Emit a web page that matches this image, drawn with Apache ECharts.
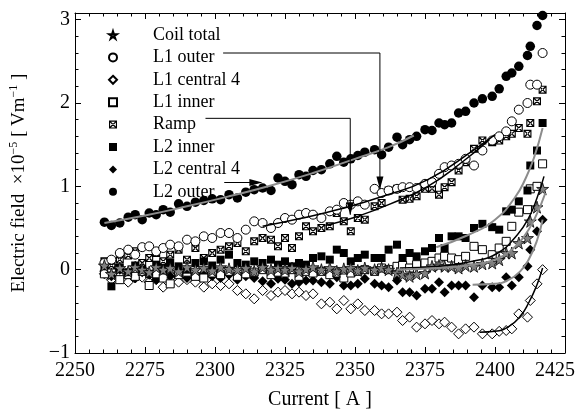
<!DOCTYPE html>
<html><head><meta charset="utf-8">
<script src="https://cdn.jsdelivr.net/npm/echarts@6/dist/echarts.min.js"></script>
<style>html,body{margin:0;padding:0;background:#fff}#c{width:578px;height:415px}</style>
</head><body><div id="c"></div>
<script>
const current = [2260.5,2263,2266,2269,2271.5,2274,2276.5,2279,2281.5,2284,2287,2290,2293,2296,2299,2302,2305,2308,2311,2314,2317,2320,2322.5,2325,2327.5,2330,2332.5,2335,2338,2341,2343.5,2346,2348.5,2351,2353.5,2357,2359.5,2362,2365,2367,2369.5,2372,2375,2377.5,2380,2382,2384.5,2387,2389.5,2392.5,2395.5,2399,2401.5,2404,2406,2408.5,2411.6,2412.6,2415,2417];
const coilTotal = [0.05,-0.05,0.02,-0.02,0.03,0.00,-0.03,0.03,0.00,0.02, -0.02,0.03,0.00,0.02,-0.01,0.03,0.01,0.00,0.02,-0.02, 0.03,0.00,0.02,0.00,0.02,-0.02,0.01,0.03,0.00,0.02, -0.02,0.01,0.02,-0.01,0.02,0.00,0.02,0.00,-0.04,-0.06, -0.08,-0.05,-0.04,0.04,0.05,0.04,0.04,0.02,0.05,0.04, 0.07,0.08,0.12,0.20,0.20,0.32,0.38,0.58,0.75,0.97];
const l1Outer = [0.08,0.12,0.20,0.24,0.18,0.27,0.28,0.22,0.26,0.30, 0.28,0.36,0.34,0.40,0.38,0.44,0.44,0.38,0.48,0.58, 0.56,0.50,0.56,0.62,0.60,0.66,0.68,0.66,0.62,0.70, 0.72,0.80,0.78,0.82,0.78,0.97,0.92,0.95,0.97,0.99, 0.99,0.98,1.03,1.05,1.15,1.23,1.25,1.27,1.33,1.25, 1.43,1.55,1.60,1.66,1.78,1.92,2.00,2.22,2.22,2.60];
const l1Central = [-0.05,-0.12,-0.08,-0.15,-0.10,-0.09,-0.15,-0.12,-0.21,-0.10, -0.15,-0.12,-0.15,-0.21,-0.17,-0.19,-0.17,-0.25,-0.29,-0.35, -0.25,-0.31,-0.27,-0.25,-0.29,-0.27,-0.31,-0.29,-0.41,-0.39, -0.47,-0.37,-0.47,-0.41,-0.49,-0.49,-0.53,-0.53,-0.51,-0.61, -0.57,-0.69,-0.65,-0.61,-0.65,-0.63,-0.69,-0.77,-0.71,-0.69, -0.77,-0.77,-0.74,-0.73,-0.71,-0.53,-0.57,-0.37,-0.17,0.00];
const l1Inner = [-0.05,0.02,-0.12,-0.06,-0.08,-0.02,-0.19,-0.05,-0.10,-0.17, -0.06,-0.03,-0.08,-0.10,-0.04,-0.06,-0.02,-0.08,-0.05,-0.03, 0.00,-0.06,-0.03,-0.04,0.00,-0.08,-0.02,-0.04,-0.02,-0.06, -0.04,-0.10,-0.04,-0.02,0.00,-0.02,0.02,0.00,0.04,0.05, 0.02,0.06,0.08,0.10,0.14,0.16,0.14,0.12,0.16,0.28, 0.24,0.18,0.26,0.34,0.52,0.69,0.72,0.97,1.00,1.27];
const ramp = [0.10,0.05,0.12,0.17,0.22,0.08,0.14,0.20,0.10,0.18, 0.24,0.12,0.26,0.14,0.20,0.24,0.28,0.32,0.22,0.34, 0.38,0.36,0.28,0.38,0.26,0.40,0.52,0.46,0.50,0.52, 0.68,0.58,0.46,0.62,0.60,0.76,0.80,0.95,0.97,0.84, 0.85,0.88,0.97,0.97,0.90,0.99,1.05,1.19,1.29,1.45, 1.55,1.53,1.55,1.60,1.63,1.70,1.63,1.76,2.02,2.16];
const l2Inner = [0.05,-0.20,0.02,-0.03,0.05,0.00,-0.05,0.06,0.02,0.08, 0.04,0.00,0.08,0.10,0.05,0.12,0.18,0.08,0.06,0.10, 0.08,0.12,0.06,0.10,0.04,0.08,0.06,0.14,0.16,0.12, 0.24,0.20,0.10,0.14,0.18,0.14,0.14,0.24,0.30,0.14, 0.20,0.16,0.22,0.26,0.38,0.26,0.40,0.40,0.38,0.50, 0.55,0.51,0.48,0.70,0.72,0.82,0.95,1.25,1.43,1.76];
const l2Central = [-0.02,-0.08,0.00,-0.05,-0.10,-0.03,-0.06,-0.12,-0.04,-0.08, -0.05,-0.10,-0.06,-0.04,-0.08,-0.10,-0.06,-0.12,-0.08,-0.10, -0.14,-0.17,-0.11,-0.12,-0.17,-0.15,-0.13,-0.13,-0.15,-0.17, -0.09,-0.19,-0.19,-0.17,-0.11,-0.17,-0.19,-0.21,-0.13,-0.27, -0.27,-0.31,-0.23,-0.23,-0.15,-0.27,-0.19,-0.19,-0.19,-0.33, -0.19,-0.21,-0.21,-0.09,-0.19,-0.09,0.04,0.24,0.46,0.60];
const l2Outer = [0.57,0.53,0.56,0.63,0.66,0.60,0.68,0.66,0.72,0.69, 0.79,0.76,0.81,0.83,0.85,0.84,0.90,0.86,0.93,0.96, 0.98,0.95,1.10,1.06,1.02,1.14,1.12,1.19,1.20,1.27, 1.36,1.29,1.33,1.37,1.41,1.44,1.38,1.47,1.59,1.50, 1.56,1.60,1.68,1.67,1.76,1.74,1.76,1.88,1.90,2.00, 2.05,2.08,2.17,2.32,2.36,2.44,2.57,2.68,2.93,3.05];

// fitted curves
const fitL2Outer = [[2260.5,0.56],[2275,0.65],[2290,0.76],[2305,0.88],[2320,1.01],[2335,1.16],[2350,1.33],[2362,1.47],[2371,1.61]];
const fitL1Outer = [[2317,0.52],[2330,0.61],[2345,0.73],[2360,0.88],[2376,1.08],[2393,1.45],[2400,1.62]];
const fitRamp = [[2339.5,0.53],[2350,0.63],[2362,0.78],[2376,1.0],[2389,1.31],[2398,1.56]];
const fitL2Inner = [[2379,0.27],[2390,0.41],[2400,0.6],[2407,0.86],[2411,1.1],[2414,1.35],[2417,1.7]];
const fitL1Inner = [[2366,0.02],[2380,0.04],[2392,0.1],[2401,0.2],[2408,0.42],[2412,0.62],[2415,0.86],[2417.5,1.12]];
const fitCoil = [[2365,0.0],[2380,0.02],[2392,0.06],[2400,0.12],[2406,0.24],[2410,0.38],[2414,0.6],[2418,0.92]];
const fitL2Central = [[2392,-0.18],[2400,-0.17],[2405,-0.12],[2409,-0.02],[2412,0.12],[2415,0.35],[2417,0.6]];
const fitL1Central = [[2394.5,-0.75],[2400,-0.74],[2405,-0.68],[2409,-0.56],[2412,-0.4],[2415,-0.18],[2417,0.02]];

// annotation leader lines (data coords)
const leadL1Outer = [[2302.9,2.60],[2358.9,2.60],[2358.9,0.97]];
const leadRamp = [[2296.6,1.816],[2348.3,1.816],[2348.3,0.66]];
const leadL2Outer = [[2303.3,1.046],[2316.5,1.046]];
const headsDown = [[2358.9,1.04],[2348.3,0.731]];
const headsRight = [[2314.6,1.046]];

const xTicks = {min:2250, max:2425, interval:25};
const yTicks = {min:-1, max:3.08, interval:1};

const FONT = 'Liberation Serif';
const STAR = 'path://M50,0 L61,35 L98,35 L68,57 L79,91 L50,70 L21,91 L32,57 L2,35 L39,35 Z';
const XBOX = 'path://M0,0 H10 V10 H0 Z M1.4,1.4 V8.6 H8.6 V1.4 Z M1.4,2.5 L1.4,1.4 L2.5,1.4 L8.6,7.5 L8.6,8.6 L7.5,8.6 Z M8.6,2.5 L8.6,1.4 L7.5,1.4 L1.4,7.5 L1.4,8.6 L2.5,8.6 Z';

const pairs = v => current.map((c,i)=>[c, v[i]]);
const open = {color:'#fff', borderColor:'#000', borderWidth:1, opacity:1};
const filled = {color:'#000', borderColor:'#000', borderWidth:0, opacity:1};

function sc(name, vals, symbol, size, style, z){
  return {name, type:'scatter', data:pairs(vals), symbol, symbolSize:size, itemStyle:style, z:z||2, silent:true};
}
function fit(data, color, w){
  return {type:'line', data, smooth:true, showSymbol:false, symbol:'none', lineStyle:{color, width:w}, z:5, silent:true};
}
function lead(data){
  return {type:'line', data, showSymbol:false, symbol:'none', lineStyle:{color:'#000', width:1}, z:6, silent:true};
}

const series = [
  sc('L1 central 4', l1Central, 'diamond', 10, open),
  sc('L2 central 4', l2Central, 'diamond', 10, filled),
  sc('L1 inner', l1Inner, 'rect', 8, open),
  sc('L2 inner', l2Inner, 'rect', 8, filled),
  sc('Ramp', ramp, XBOX, 8, filled),
  sc('L1 outer', l1Outer, 'circle', 9, open),
  sc('L2 outer', l2Outer, 'circle', 9.5, filled),
  sc('Coil total', coilTotal, STAR, 12, {color:'#808080', borderColor:'#000', borderWidth:0.8, opacity:1}, 3),
  fit(fitL2Outer, '#8c8c8c', 2),
  fit(fitL1Outer, '#000', 1.5),
  fit(fitRamp, '#000', 1.5),
  fit(fitL2Inner, '#8c8c8c', 2),
  fit(fitL1Inner, '#000', 1.5),
  fit(fitCoil, '#8c8c8c', 2),
  fit(fitL2Central, '#8c8c8c', 2),
  fit(fitL1Central, '#000', 1.5),
  lead(leadL1Outer), lead(leadRamp), lead(leadL2Outer),
  {type:'scatter', data:headsDown, symbol:'triangle', symbolSize:[7,13], symbolRotate:180, itemStyle:{color:'#000', opacity:1}, z:7, silent:true},
  {type:'scatter', data:headsRight, symbol:'triangle', symbolSize:[7,13], symbolRotate:-90, itemStyle:{color:'#000', opacity:1}, z:7, silent:true}
];

const axisCommon = {
  type:'value', splitLine:{show:false},
  axisLine:{show:true, onZero:false, lineStyle:{color:'#000', width:1}},
  axisTick:{show:true, inside:true, length:6, lineStyle:{color:'#000'}},
  minorTick:{show:true, splitNumber:5, length:3.5, lineStyle:{color:'#000'}},
  minorSplitLine:{show:false}
};

const chart = echarts.init(document.getElementById('c'), null, {renderer:'canvas'});
chart.setOption({
  animation:false,
  backgroundColor:'#fff',
  grid:{left:73, right:8, top:13, bottom:59},
  legend:{
    data:['Coil total','L1 outer','L1 central 4','L1 inner','Ramp','L2 inner','L2 central 4','L2 outer'],
    orient:'vertical', left:103, top:21, itemWidth:8, itemHeight:8, itemGap:4.4,
    textStyle:{fontFamily:FONT, fontSize:18, color:'#000', padding:[0,0,0,31]}, selectedMode:false
  },
  xAxis:[
    Object.assign({}, axisCommon, xTicks, {position:'bottom',
      name:'Current [ A ]', nameLocation:'middle', nameGap:37,
      nameTextStyle:{fontFamily:FONT, fontSize:20, color:'#000'},
      axisLabel:{fontFamily:FONT, fontSize:20, color:'#000', margin:8,
        formatter:v => v===2425 ? '{r|2425}' : String(v),
        rich:{r:{fontFamily:FONT, fontSize:20, color:'#000', padding:[0,20,0,0]}}}}),
    Object.assign({}, axisCommon, xTicks, {position:'top', axisLabel:{show:false}})
  ],
  yAxis:[
    Object.assign({}, axisCommon, yTicks, {position:'left',
      name:'{a|Electric field  ×10}{s|−5}{a| [ Vm}{s|−1}{a| ]}', nameLocation:'middle', nameGap:45, nameRotate:90,
      nameTextStyle:{fontFamily:FONT, fontSize:19, color:'#000',
        rich:{a:{fontFamily:FONT, fontSize:19, color:'#000'}, s:{fontFamily:FONT, fontSize:12, color:'#000', padding:[0,0,10,0]}}},
      axisLabel:{fontFamily:FONT, fontSize:20, color:'#000', margin:5, showMaxLabel:false,
        formatter:v => Math.abs(v-Math.round(v))>1e-6 ? '' : (v<0 ? '\u2212'+Math.round(-v) : String(Math.round(v)))}}),
    Object.assign({}, axisCommon, yTicks, {position:'right', axisLabel:{show:false}})
  ],
  series
});
</script></body></html>
